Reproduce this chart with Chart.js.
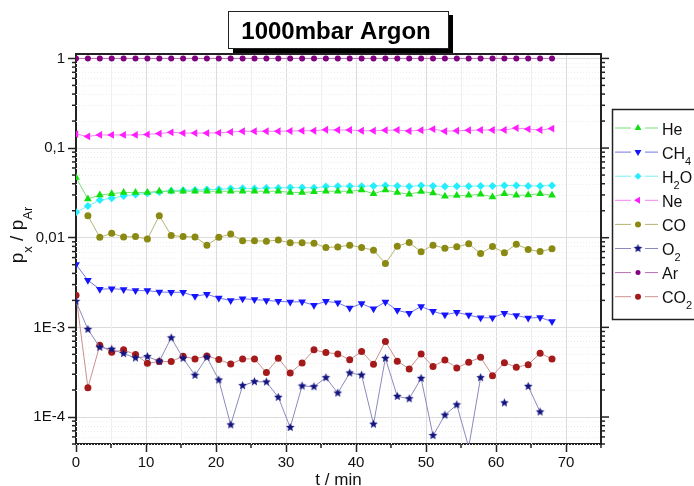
<!DOCTYPE html>
<html lang="de">
<head>
  <meta charset="UTF-8">
  <title>1000mbar Argon</title>
  <script src="https://cdn.jsdelivr.net/npm/chart.js"></script>
  <style>
    html, body { margin: 0; padding: 0; background: #fff; overflow: hidden; }
    #wrap { position: relative; width: 694px; height: 486px; }
  </style>
</head>
<body>
  <div id="wrap"><canvas id="chart" width="694" height="486"></canvas></div>

  <script>
    // Messzeiten in min
    const times = [0, 1.7, 3.4, 5.1, 6.8, 8.5, 10.2, 11.9, 13.6, 15.3, 17.0, 18.7, 20.4, 22.1,
      23.8, 25.5, 27.2, 28.9, 30.6, 32.3, 34.0, 35.7, 37.4, 39.1, 40.8, 42.5, 44.2, 45.9,
      47.6, 49.3, 51.0, 52.7, 54.4, 56.1, 57.8, 59.5, 61.2, 62.9, 64.6, 66.3, 68.0];

    // Partialdruck / p(Ar)
    const he = [0.047, 0.027, 0.030, 0.031, 0.032, 0.032, 0.032, 0.033, 0.033, 0.033, 0.033,
      0.033, 0.033, 0.033, 0.033, 0.033, 0.033, 0.033, 0.032, 0.032, 0.0325, 0.033, 0.033,
      0.033, 0.034, 0.031, 0.034, 0.032, 0.0305, 0.0327, 0.0316, 0.029, 0.0295, 0.0297,
      0.0305, 0.0285, 0.031, 0.0297, 0.030, 0.031, 0.0297];
    const ch4 = [0.00502, 0.00335, 0.00266, 0.0027, 0.00265, 0.00257, 0.00257, 0.00248,
      0.00246, 0.00246, 0.00222, 0.00234, 0.00212, 0.0020, 0.00209, 0.00204, 0.0020, 0.00195,
      0.00192, 0.00193, 0.00177, 0.00195, 0.00188, 0.00164, 0.00184, 0.00161, 0.00192,
      0.00155, 0.00144, 0.00171, 0.00151, 0.00138, 0.00147, 0.00137, 0.00128, 0.00128,
      0.00144, 0.00136, 0.00127, 0.00129, 0.00116];
    const h2o = [0.0192, 0.0226, 0.0264, 0.0275, 0.0292, 0.0303, 0.0313, 0.0324, 0.0335,
      0.0338, 0.0341, 0.0344, 0.0347, 0.0353, 0.0356, 0.0353, 0.0359, 0.0359, 0.0362, 0.0362,
      0.0360, 0.0372, 0.0374, 0.0376, 0.0375, 0.0378, 0.0382, 0.0378, 0.0372, 0.0382, 0.0378,
      0.0372, 0.0375, 0.0375, 0.0378, 0.0378, 0.0382, 0.0382, 0.0378, 0.0378, 0.0382];
    const ne = [0.143, 0.135, 0.140, 0.140, 0.140, 0.140, 0.142, 0.145, 0.150, 0.147, 0.147,
      0.147, 0.148, 0.151, 0.154, 0.154, 0.154, 0.154, 0.155, 0.156, 0.156, 0.160, 0.159,
      0.159, 0.156, 0.156, 0.158, 0.159, 0.155, 0.158, 0.163, 0.154, 0.156, 0.158, 0.159,
      0.159, 0.159, 0.167, 0.163, 0.159, 0.165];
    const co = [null, 0.0176, 0.0101, 0.0112, 0.0102, 0.0103, 0.00965, 0.0176, 0.0106, 0.0103,
      0.0102, 0.00826, 0.0101, 0.0110, 0.00924, 0.00924, 0.00916, 0.0094, 0.00877, 0.00877,
      0.0087, 0.00778, 0.0079, 0.00826, 0.00778, 0.00726, 0.00515, 0.00805, 0.00885, 0.00696,
      0.00826, 0.00765, 0.00791, 0.00855, 0.00667, 0.00798, 0.00678, 0.00848, 0.00739,
      0.00702, 0.00752];
    const o2 = [0.00195, 0.00095, 0.0006, 0.00057, 0.00051, 0.000456, 0.000472, 0.000419,
      0.000764, 0.000452, 0.000292, 0.000464, 0.000259, 0.0000818, 0.000224, 0.000248,
      0.000246, 0.000166, 0.0000764, 0.000222, 0.000218, 0.000275, 0.000185, 0.00031,
      0.000294, 0.0000832, 0.000452, 0.00017, 0.00016, 0.00027, 0.0000621, 0.000105,
      0.000137, 0.000046, 0.000275, null, 0.000144, null, 0.00022, 0.000114, null];
    const ar = [1, 1, 1, 1, 1, 1, 1, 1, 1, 1, 1, 1, 1, 1, 1, 1, 1, 1, 1, 1, 1, 1, 1, 1, 1, 1,
      1, 1, 1, 1, 1, 1, 1, 1, 1, 1, 1, 1, 1, 1, 1];
    const co2 = [0.00228, 0.000212, 0.000632, 0.000528, 0.000561, 0.000497, 0.000398,
      0.000415, 0.000415, 0.000476, 0.000445, 0.00048, 0.000437, 0.000391, 0.000445, 0.000445,
      0.000313, 0.000452, 0.00031, 0.0004, 0.000561, 0.000524, 0.000506, 0.000435, 0.000537,
      0.000388, 0.000695, 0.000419, 0.000344, 0.000506, 0.000365, 0.000433, 0.000353,
      0.000408, 0.000464, 0.000289, 0.000404, 0.000359, 0.000384, 0.000514, 0.000445];

    const yTickValues = [1e-4, 1e-3, 0.01, 0.1, 1];
    const yTickLabels = ['1E-4', '1E-3', '0,01', '0,1', '1'];
    const xTickValues = [0, 10, 20, 30, 40, 50, 60, 70];

    // gefüllter Stern für O2
    function starImage(color, r) {
      const c = document.createElement('canvas');
      const s = Math.ceil(r * 2 + 2);
      c.width = c.height = s;
      const g = c.getContext('2d');
      g.fillStyle = color;
      g.beginPath();
      for (let i = 0; i < 10; i++) {
        const rad = i % 2 ? r * 0.45 : r;
        const a = -Math.PI / 2 + i * Math.PI / 5;
        g.lineTo(s / 2 + rad * Math.cos(a), s / 2 + rad * Math.sin(a));
      }
      g.closePath();
      g.fill();
      return c;
    }

    // label parts: [text, subscript?]
    const series = [
      { parts: [['He']], data: he, marker: '#10e010', line: '#74e074', shape: 'triangle', rot: 0, r: 4.5 },
      { parts: [['CH'], ['4', 1]], data: ch4, marker: '#1414ff', line: '#7474ea', shape: 'triangle', rot: 180, r: 4.5 },
      { parts: [['H'], ['2', 1], ['O']], data: h2o, marker: '#22eeff', line: '#78f0f0', shape: 'rectRot', rot: 0, r: 4 },
      { parts: [['Ne']], data: ne, marker: '#ff1cff', line: '#f284f2', shape: 'triangle', rot: 270, r: 4.5 },
      { parts: [['CO']], data: co, marker: '#8a8a12', line: '#b4b474', shape: 'circle', rot: 0, r: 3.5 },
      { parts: [['O'], ['2', 1]], data: o2, marker: '#141480', line: '#8a8abd', shape: starImage('#141480', 4.5), rot: 0, r: 4.5 },
      { parts: [['Ar']], data: ar, marker: '#800080', line: '#b070b0', shape: 'circle', rot: 0, r: 3 },
      { parts: [['CO'], ['2', 1]], data: co2, marker: '#a41a1a', line: '#cc9090', shape: 'circle', rot: 0, r: 3.5 }
    ];

    function drawParts(ctx, parts, x, y, size, subSize, subDy, align) {
      const main = size + 'px "Liberation Sans", Arial, sans-serif';
      const sub = subSize + 'px "Liberation Sans", Arial, sans-serif';
      let w = 0;
      parts.forEach(p => { ctx.font = p[1] ? sub : main; w += ctx.measureText(p[0]).width; });
      let cx = align === 'center' ? x - w / 2 : x;
      ctx.textAlign = 'left';
      ctx.textBaseline = 'alphabetic';
      parts.forEach(p => {
        ctx.font = p[1] ? sub : main;
        ctx.fillText(p[0], cx, y + (p[1] ? subDy : 0));
        cx += ctx.measureText(p[0]).width;
      });
    }

    function hline(ctx, x1, x2, y) { ctx.beginPath(); ctx.moveTo(x1, y); ctx.lineTo(x2, y); ctx.stroke(); }
    function vline(ctx, x, y1, y2) { ctx.beginPath(); ctx.moveTo(x, y1); ctx.lineTo(x, y2); ctx.stroke(); }

    function minorValues(scale) {
      const out = [];
      for (let e = -6; e <= 0; e++) {
        for (let m = 2; m <= 9; m++) {
          const v = m * Math.pow(10, e);
          if (v >= scale.min && v <= scale.max) out.push(v);
        }
      }
      return out;
    }

    const minorGrid = {
      id: 'minorGrid',
      beforeDatasetsDraw(chart) {
        const { ctx, chartArea: a, scales: { x, y } } = chart;
        ctx.save();
        ctx.lineWidth = 1;
        ctx.strokeStyle = '#ededed';
        ctx.setLineDash([1, 2]);
        minorValues(y).forEach(v => hline(ctx, a.left, a.right, Math.round(y.getPixelForValue(v)) + 0.5));
        ctx.setLineDash([]);
        ctx.strokeStyle = '#f0f0f0';
        for (let t = 5; t < 75; t += 10) vline(ctx, Math.round(x.getPixelForValue(t)) + 0.5, a.top, a.bottom);
        ctx.restore();
      }
    };

    const frame = {
      id: 'frame',
      afterDraw(chart) {
        const { ctx, chartArea: a, scales: { x, y } } = chart;
        ctx.save();
        ctx.strokeStyle = '#222';
        ctx.lineWidth = 2;
        ctx.beginPath();
        ctx.moveTo(a.left, a.top);
        ctx.lineTo(a.right, a.top);
        ctx.lineTo(a.right, a.bottom);
        ctx.stroke();

        // Teilstriche rechts, links und unten
        ctx.lineWidth = 1.5;
        yTickValues.forEach(v => hline(ctx, a.right, a.right + 8, y.getPixelForValue(v)));
        minorValues(y).forEach(v => {
          const py = y.getPixelForValue(v);
          hline(ctx, a.right, a.right + 4, py);
          hline(ctx, a.left - 4, a.left, py);
        });
        for (let t = 5; t <= 75; t += 10) vline(ctx, x.getPixelForValue(t), a.bottom, a.bottom + 4);

        // Achsentitel
        ctx.fillStyle = '#111';
        drawParts(ctx, [['t / min']], (a.left + a.right) / 2, 485, 17, 12, 0, 'center');
        ctx.save();
        ctx.translate(23, 235);
        ctx.rotate(-Math.PI / 2);
        drawParts(ctx, [['p'], ['x', 1], [' / p'], ['Ar', 1]], 0, 0, 19, 13, 9, 'center');
        ctx.restore();

        // Titel mit Schatten
        ctx.fillStyle = '#000';
        ctx.fillRect(233, 15, 220, 38);
        ctx.fillStyle = '#fff';
        ctx.fillRect(228, 11, 220, 37);
        ctx.lineWidth = 1;
        ctx.strokeStyle = '#222';
        ctx.strokeRect(228.5, 11.5, 220, 37);
        ctx.fillStyle = '#000';
        ctx.font = 'bold 24px "Liberation Sans", Arial, sans-serif';
        ctx.textAlign = 'center';
        ctx.textBaseline = 'alphabetic';
        ctx.fillText('1000mbar Argon', 336, 39);

        // Legende
        ctx.fillStyle = '#fff';
        ctx.fillRect(612, 109, 100, 210);
        ctx.lineWidth = 1.5;
        ctx.strokeStyle = '#222';
        ctx.strokeRect(612.5, 109.5, 100, 210);
        series.forEach((s, i) => {
          const ly = 128 + i * 24.1;
          ctx.strokeStyle = s.line;
          ctx.lineWidth = 1;
          hline(ctx, 615, 631, ly);
          hline(ctx, 645, 658, ly);
          ctx.fillStyle = s.marker;
          ctx.strokeStyle = s.marker;
          Chart.helpers.drawPoint(ctx, { pointStyle: s.shape, rotation: s.rot, radius: s.r - 0.5, borderWidth: 0 }, 638, ly);
          ctx.fillStyle = '#111';
          drawParts(ctx, s.parts, 662, ly + 6.5, 16, 11, 6, 'left');
        });
        ctx.restore();
      }
    };

    const chart = new Chart(document.getElementById('chart').getContext('2d'), {
      type: 'line',
      data: {
        datasets: series.map(s => ({
          label: s.parts.map(p => p[0]).join(''),
          data: times.map((t, i) => ({ x: t, y: s.data[i] })),
          borderColor: s.line,
          borderWidth: 1,
          backgroundColor: s.marker,
          pointBackgroundColor: s.marker,
          pointBorderColor: s.marker,
          pointBorderWidth: 0,
          pointStyle: s.shape,
          pointRotation: s.rot,
          pointRadius: s.r,
          spanGaps: false,
          tension: 0
        }))
      },
      options: {
        responsive: false,
        animation: false,
        events: [],
        layout: { padding: { left: 0, top: 54, right: 93, bottom: 0 } },
        plugins: { legend: { display: false }, title: { display: false }, tooltip: { enabled: false } },
        scales: {
          x: {
            type: 'linear',
            min: 0,
            max: 75,
            afterFit: scale => { scale.height = 42; },
            afterBuildTicks: scale => { scale.ticks = xTickValues.map(v => ({ value: v })); },
            ticks: {
              color: '#111',
              font: { family: '"Liberation Sans", Arial, sans-serif', size: 15 },
              padding: 2,
              maxRotation: 0,
              autoSkip: false
            },
            grid: { color: '#dcdcdc', lineWidth: 1, tickColor: '#222', tickLength: 8, tickWidth: 1.5 },
            border: { color: '#222', width: 2 }
          },
          y: {
            type: 'logarithmic',
            min: 5e-5,
            max: 1.12,
            afterFit: scale => { scale.width = 76; },
            afterBuildTicks: scale => { scale.ticks = yTickValues.map(v => ({ value: v })); },
            ticks: {
              color: '#111',
              font: { family: '"Liberation Sans", Arial, sans-serif', size: 15 },
              padding: 3,
              autoSkip: false,
              callback: (value, index) => yTickLabels[index]
            },
            grid: { color: '#dcdcdc', lineWidth: 1, tickColor: '#222', tickLength: 8, tickWidth: 1.5 },
            border: { color: '#222', width: 2 }
          }
        }
      },
      plugins: [minorGrid, frame]
    });
  </script>
</body>
</html>
